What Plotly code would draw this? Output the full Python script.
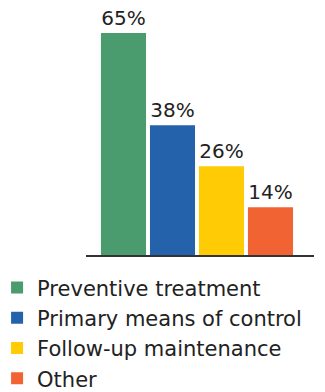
import plotly.graph_objects as go

categories = ["Preventive treatment", "Primary means of control", "Follow-up maintenance", "Other"]
values = [65, 38, 26, 14]
labels = ["65%", "38%", "26%", "14%"]
colors = ["#4A9B6D", "#2462AB", "#FFCB05", "#F26334"]

FONT = "DejaVu Sans"
fig = go.Figure()
for i, (c, v, l, col) in enumerate(zip(categories, values, labels, colors)):
    fig.add_trace(go.Bar(
        x=[i], y=[v], name=c, marker=dict(color=col, line=dict(width=0)),
        text=[l], textposition="outside", cliponaxis=False,
        textfont=dict(family=FONT, size=20, color="#222222"),
        width=0.92, showlegend=True,
    ))

fig.update_layout(
    width=325, height=392,
    margin=dict(l=86, r=11, t=10, b=136.5, autoexpand=False),
    paper_bgcolor="white", plot_bgcolor="white",
    barmode="overlay",
    xaxis=dict(range=[-0.765, 3.888], showticklabels=False, showgrid=False, zeroline=False,
               showline=True, linecolor="#333333", linewidth=2, ticks=""),
    yaxis=dict(range=[0, 71.7], visible=False),
    legend=dict(x=-0.39, xanchor="left", y=-0.05, yanchor="top", orientation="v",
                font=dict(family=FONT, size=21, color="#222222"),
                traceorder="normal", itemsizing="constant"),
    showlegend=True,
)
fig.write_html("out.html")
